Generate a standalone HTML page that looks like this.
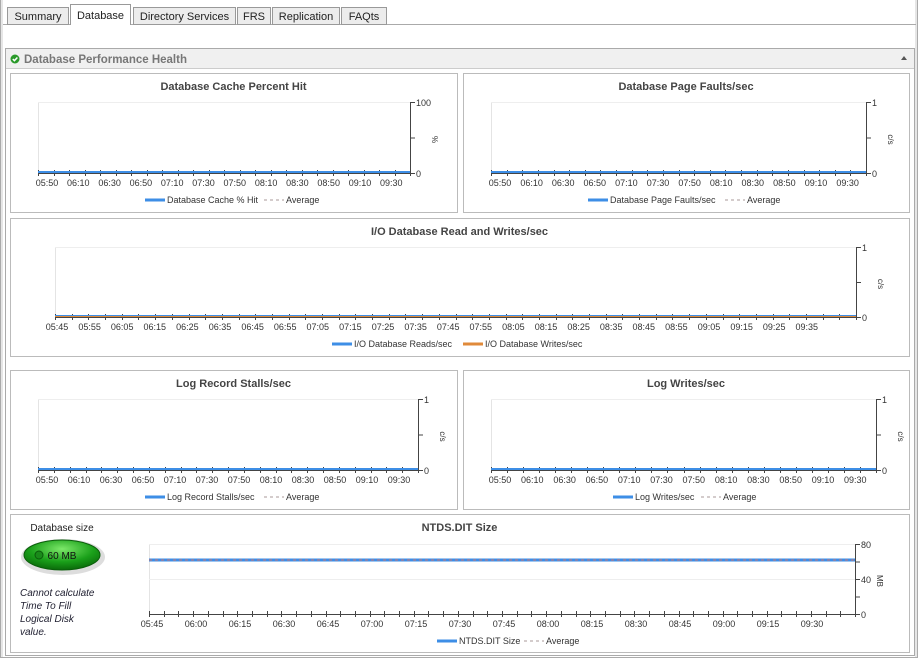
<!DOCTYPE html>
<html><head><meta charset="utf-8"><style>
body{margin:0;width:918px;height:658px;background:#fff;font-family:"Liberation Sans",sans-serif;overflow:hidden;position:relative}
#bg{position:absolute;left:0;top:0;width:918px;height:658px}
</style></head><body>
<svg id="bg" width="918" height="658" xmlns="http://www.w3.org/2000/svg" font-family="Liberation Sans, sans-serif"></svg>
<script>
var s=document.getElementById('bg'),h='';
function R(x,y,w,hh,f,st){h+='<rect x="'+x+'" y="'+y+'" width="'+w+'" height="'+hh+'" fill="'+f+'"'+(st?' stroke="'+st+'"':'')+'/>';}
function L(x1,y1,x2,y2,c,w,d){h+='<line x1="'+x1+'" y1="'+y1+'" x2="'+x2+'" y2="'+y2+'" stroke="'+c+'" stroke-width="'+(w||1)+'"'+(d?' stroke-dasharray="'+d+'"':'')+'/>';}
function T(x,y,t,sz,c,a,ex){h+='<text x="'+x+'" y="'+y+'" font-size="'+sz+'" fill="'+c+'" text-anchor="'+(a||'start')+'" '+(ex||'')+'>'+t+'</text>';}
// page frame
R(0,0,918,658,'#fff');L(0.5,0,0.5,658,'#aaa');L(2,0,2,658,'#ccc');L(916,0,916,658,'#ccc');L(917.5,0,917.5,658,'#aaa');L(0,657.5,918,657.5,'#aaa');
L(3,24.5,916,24.5,'#aaa');
var tabs=[[7,68,'Summary'],[70,130,'Database'],[133,235,'Directory Services'],[237,270,'FRS'],[272,339,'Replication'],[341,386,'FAQts']];
tabs.forEach(function(t,i){var sel=i==1;R(t[0]+.5,sel?4.5:7.5,t[1]-t[0],sel?20:17,sel?'#fff':'#ececec','#999');if(sel)L(t[0]+1,24.5,t[1],24.5,'#fff');T((t[0]+t[1])/2+0.5,sel?19:20,t[2],11,'#222','middle');});
// panel
R(5.5,48.5,909,607,'#fff','#aaa');R(6,49,908,19,'#f0f0f0');L(6,68.5,914,68.5,'#ccc');
h+='<circle cx="15" cy="59" r="4.5" fill="#2a9a2a"/><path d="M12.8 59 l1.6 1.7 l3-3.2" stroke="#fff" stroke-width="1.5" fill="none"/>';
T(24,63,'Database Performance Health',11.5,'#777','start','font-weight="bold"');
h+='<path d="M901 60 l3-4 l3 4z" fill="#555"/>';
function chart(bx,by,bw,bh,title,px1,py1,px2,py2,labels,lx0,ldx,nt,ymax,unit,leg,series,lineY){
 R(bx+.5,by+.5,bw,bh,'#fff','#bbb');
 T(bx+bw/2,by+17,title,11,'#444','middle','font-weight="bold"');
 R(px1,py1,px2-px1,py2-py1,'#fff');L(px1+.5,py1,px1+.5,py2,'#e4e4e4');L(px1,py1+.5,px2,py1+.5,'#eee');
 L(px2+.5,py1,px2+.5,py2+.5,'#444');L(px1,py2+.5,px2+.5,py2+.5,'#444');
 var mid=(py1+py2)/2;
 L(px2,py1+.5,px2+5,py1+.5,'#444');L(px2,mid+.5,px2+5,mid+.5,'#444');L(px2,py2+.5,px2+5,py2+.5,'#444');
 if(ymax=='80'){L(px2,py1+(py2-py1)/4+.5,px2+5,py1+(py2-py1)/4+.5,'#444');L(px2,py1+3*(py2-py1)/4+.5,px2+5,py1+3*(py2-py1)/4+.5,'#444');L(px1,mid+.5,px2,mid+.5,'#eee');
 T(px2+6,py1+4,'80',9,'#333');T(px2+6,mid+4,'40',9,'#333');T(px2+6,py2+4,'0',9,'#333');}
 else{T(px2+6,py1+4,ymax,9,'#333');T(px2+6,py2+4,'0',9,'#333');}
 T(px2+24,mid,unit,8,'#333','middle','transform="rotate(90 '+(px2+22)+' '+mid+')"');
 var step=(px2-px1)/nt;for(var i=0;i<=nt;i++){var x=Math.round(px1+i*step)+.5;L(x,py2-3,x,py2+3,'#444');}
 labels.forEach(function(l,i){T(lx0+i*ldx,py2+13,l,9,'#333','middle');});
 if(lineY!=null){L(px1,lineY,px2,lineY,'#3d8ee6',3);L(px1,lineY,px2,lineY,'#c77',1,'3,3');}
 else{L(px1,py2-1,px2,py2-1,series=='io'?'#3d8ee6':'#3d8ee6',2);if(series=='io')L(px1,py2-0.5,px2,py2-0.5,'#e08a3a',1);}
 var ly=py2+30;var x=leg.x;
 L(x,ly-3,x+20,ly-3,'#3d8ee6',3);T(x+22,ly,leg.a,9,'#333');
 if(series=='io'){L(leg.x2,ly-3,leg.x2+20,ly-3,'#e08a3a',3);T(leg.x2+22,ly,leg.b,9,'#333');}
 else{L(leg.x2,ly-3,leg.x2+20,ly-3,'#a99',1,'3,3');T(leg.x2+22,ly,'Average',9,'#333');}
}
var L1=['05:50','06:10','06:30','06:50','07:10','07:30','07:50','08:10','08:30','08:50','09:10','09:30'];
chart(10,73,447,139,'Database Cache Percent Hit',38,102,410,173,L1,47,31.3,24,'100','%',{x:145,a:'Database Cache % Hit',x2:264});
chart(463,73,446,139,'Database Page Faults/sec',491,102,866,173,L1,500,31.6,24,'1','c/s',{x:588,a:'Database Page Faults/sec',x2:725});
var L3=[];for(var m=345;m<=575;m+=10){L3.push(('0'+Math.floor(m/60)).slice(-2)+':'+('0'+m%60).slice(-2));}
chart(10,218,899,138,'I/O Database Read and Writes/sec',55,247,856,317,L3,57,32.6,48,'1','c/s',{x:332,a:'I/O Database Reads/sec',x2:463,b:'I/O Database Writes/sec'},'io');
chart(10,370,447,139,'Log Record Stalls/sec',38,399,418,470,L1,47,32,24,'1','c/s',{x:145,a:'Log Record Stalls/sec',x2:264});
chart(463,370,446,139,'Log Writes/sec',491,399,876,470,L1,500,32.3,24,'1','c/s',{x:613,a:'Log Writes/sec',x2:701});
var L6=[];for(var m=345;m<=570;m+=15){L6.push(('0'+Math.floor(m/60)).slice(-2)+':'+('0'+m%60).slice(-2));}
chart(10,514,899,138,'NTDS.DIT Size',149,544,855,614,L6,152,44,48,'80','MB',{x:437,a:'NTDS.DIT Size',x2:524},null,560);
// db size
T(62,531,'Database size',10,'#222','middle');
h+='<defs><radialGradient id="g" cx="50%" cy="30%" r="70%"><stop offset="0" stop-color="#7de86a"/><stop offset="0.6" stop-color="#1aa01a"/><stop offset="1" stop-color="#0a6a0a"/></radialGradient></defs>';
h+='<ellipse cx="63" cy="557" rx="42" ry="18" fill="#ddd"/><ellipse cx="62" cy="555" rx="38" ry="15" fill="url(#g)" stroke="#0b5e0b"/>';
h+='<circle cx="39" cy="555" r="4" fill="#1a8a1a" stroke="#0a5a0a"/>';
T(62,559,'60 MB',10,'#111','middle');
['Cannot calculate','Time To Fill','Logical Disk','value.'].forEach(function(t,i){T(20,596+i*13,t,10,'#223','start','font-style="italic"');});
s.innerHTML=h;
</script>
</body></html>
